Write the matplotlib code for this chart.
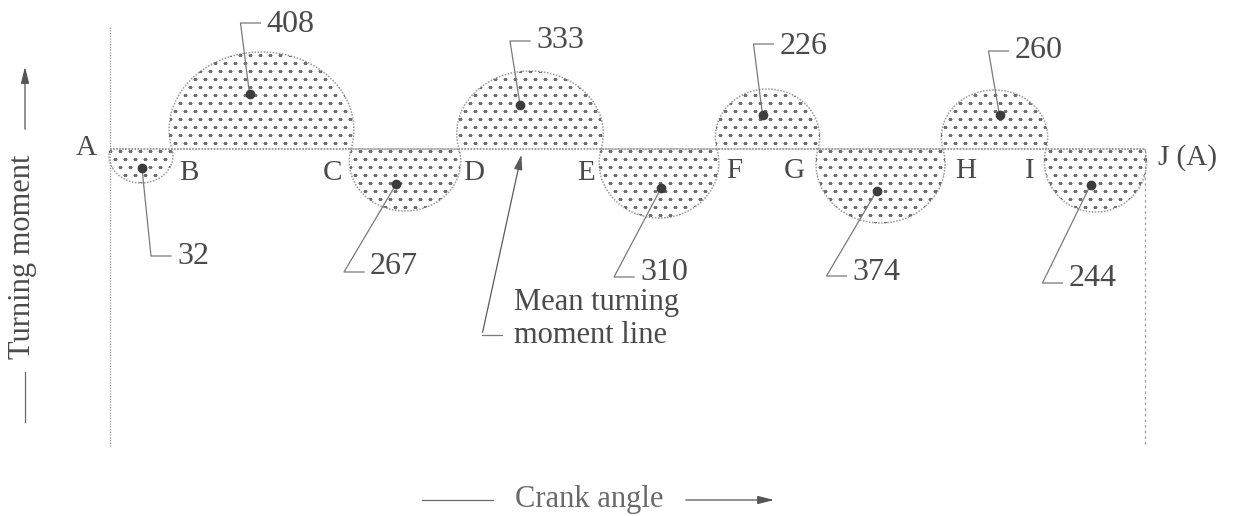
import numpy as np
import matplotlib.pyplot as plt

plt.rcParams['font.family'] = ['Liberation Serif', 'DejaVu Serif']

# Crank-angle positions where the turning moment crosses the mean line (A..J)
points = ['A', 'B', 'C', 'D', 'E', 'F', 'G', 'H', 'I', 'J (A)']
crossings = [110, 172, 351, 459, 601, 717, 818, 943, 1046, 1145]
# Peak excess (+) / deficit (-) of each loop, relative to the mean line
peaks = [-34, 97, -62, 78, -69, 60, -74, 59, -63]
# Loop areas written on the diagram (mm^2)
areas = [32, 408, 267, 333, 310, 226, 374, 260, 244]

MEAN = 149  # pixel row of the mean line, used to map pixels to data


def py(y):
    return MEAN - y


fig = plt.figure(figsize=(12.33, 5.16), dpi=100)
ax = fig.add_axes([0, 0, 1, 1])
ax.set_xlim(0, 1233)
ax.set_ylim(MEAN - 516, MEAN)
ax.axis('off')

ink = '#4a4a4a'
grey = '#9a9a9a'

# background dash pattern, clipped to each loop
gx, gy = np.meshgrid(np.arange(100, 1160, 10.0), np.arange(-90, 110, 8.0))
gx = gx + (np.round(gy / 8.0) % 2) * 5

alpha = 0.25
for i, h in enumerate(peaks):
    x0, x1 = crossings[i], crossings[i + 1]
    xc, w = (x0 + x1) / 2, (x1 - x0) / 2
    th = np.linspace(-alpha, np.pi + alpha, 200)
    A = w / np.cos(alpha)
    B = abs(h) / (1 + np.sin(alpha))
    xs = xc + A * np.cos(th)
    ys = (B * np.sin(th) + B * np.sin(alpha)) * np.sign(h)
    patch = ax.fill(xs, ys, facecolor='none', edgecolor=grey, lw=1.1,
                    ls=(0, (1, 1)))[0]
    pts = ax.plot(gx.ravel(), gy.ravel(), ls='none', marker='_', ms=2.8,
                  mew=0.8, color='#6f6f6f')[0]
    pts.set_clip_path(patch)

# mean line and frame
ax.plot([crossings[0], crossings[-1]], [0, 0], color=grey, lw=1.1, ls=(0, (1, 1)))
ax.plot([crossings[0], crossings[0]], [py(27), py(447)], color=grey, lw=0.9,
        ls=(0, (1, 1.2)))
ax.plot([crossings[-1], crossings[-1]], [0, py(447)], color=grey, lw=0.9,
        ls=(0, (2, 2.5)))

# point letters
letter_pos = [(86, 148), (189, 173), (333, 173), (474, 173), (586, 173),
              (734, 171), (794, 171), (966, 171), (1030, 171), (1188, 158)]
for lab, (lx, ly) in zip(points, letter_pos):
    ax.text(lx, py(ly), lab, fontsize=21, color=ink, ha='center', va='center')

# centre dots and leader lines to the area values
leader = [(9, 256), (-9, 23), (-52, 272), (-10, 41), (-47, 277),
          (-9, 44), (-50, 276), (-11, 51), (-48, 283)]
text_dy = [0, 1, -5, 0, -4, 3, -3, 0, -5]
dot_dx = [1, -12, -9, -10, 2, -5, -4, 5, -5]
for i, (h, a) in enumerate(zip(peaks, areas)):
    xc = (crossings[i] + crossings[i + 1]) / 2
    dot_x, dot_y = xc + dot_dx[i], 0.57 * h
    ax.plot(dot_x, dot_y, 'o', ms=6, color='#3c3c3c', zorder=5)
    ldx, ly = leader[i]
    cx, cy = dot_x + ldx, py(ly)
    ax.plot([dot_x, cx, cx + 20], [dot_y, cy, cy], color='#7a7a7a', lw=0.9)
    ax.text(cx + 26, cy - text_dy[i], str(a), fontsize=23, color=ink,
            ha='left', va='center')

# mean turning moment line pointer
ax.annotate('', xy=(522, py(152)), xytext=(482, py(335)),
            arrowprops=dict(arrowstyle='-|>,head_length=0.9,head_width=0.25',
                            color='#5a5a5a', lw=0.9))
ax.plot([482, 502], [py(335), py(335)], color='#7a7a7a', lw=0.9)
ax.text(514, py(343), 'Mean turning\nmoment line', fontsize=22, color=ink,
        ha='left', va='baseline', linespacing=1.2)

# axis captions
ax.text(23, py(257), 'Turning moment', fontsize=22, color=ink, rotation=90,
        ha='center', va='center')
ax.plot([25, 25], [py(372), py(422)], color='#6a6a6a', lw=0.9)
ax.annotate('', xy=(25, py(64)), xytext=(25, py(132)),
            arrowprops=dict(arrowstyle='-|>,head_length=1.0,head_width=0.25',
                            color='#555555', lw=0.9))

ax.text(589, py(500), 'Crank angle', fontsize=22, color='#6a6a6a',
        ha='center', va='center')
ax.plot([422, 493], [py(500), py(500)], color='#6a6a6a', lw=0.9)
ax.annotate('', xy=(777, py(500)), xytext=(683, py(500)),
            arrowprops=dict(arrowstyle='-|>,head_length=1.0,head_width=0.25',
                            color='#555555', lw=0.9))

fig.savefig('out.png', dpi=100)
